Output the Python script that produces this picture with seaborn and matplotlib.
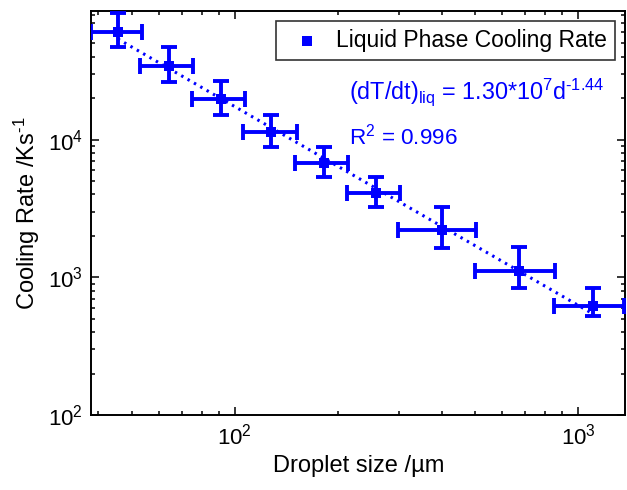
import numpy as np
import matplotlib
matplotlib.use("Agg")
import matplotlib.pyplot as plt
import seaborn as sns
import pandas as pd

# ---- data ----
droplet_size = [45.6, 64.3, 91.0, 127.5, 182.3, 257.0, 400.6, 674.5, 1104.0]
cooling_rate = [60800, 34200, 19600, 11400, 6730, 4100, 2206, 1117, 619]
size_low = [38.1, 52.9, 74.9, 105.9, 149.8, 211.8, 299.5, 501.0, 851.0]
size_high = [53.5, 75.7, 107.1, 151.5, 214.2, 302.9, 503.0, 857.0, 1362.0]
rate_low = [47300, 26300, 15090, 8880, 5380, 3256, 1624, 832, 524]
rate_high = [83500, 47300, 26600, 15090, 8880, 5380, 3256, 1668, 840]

legend_label = "Liquid Phase Cooling Rate"
fit_text = r"(dT/dt)$_{\mathregular{liq}}$ = 1.30*10$^{\mathregular{7}}$d$^{\mathregular{\text{-}1.44}}$"
r2_text = r"R$^{\mathregular{2}}$ = 0.996"

sns.set_style("ticks")
plt.rcParams["font.family"] = ["Liberation Sans", "DejaVu Sans"]
plt.rcParams["mathtext.fontset"] = "custom"
plt.rcParams["mathtext.rm"] = "Liberation Sans"
plt.rcParams["mathtext.it"] = "Liberation Sans:italic"
plt.rcParams["mathtext.default"] = "regular"
plt.rcParams["text.color"] = "black"
plt.rcParams["axes.labelcolor"] = "black"

df = pd.DataFrame({"d": droplet_size, "r": cooling_rate})
x = np.array(droplet_size)
y = np.array(cooling_rate)
xerr = np.vstack([x - np.array(size_low), np.array(size_high) - x])
yerr = np.vstack([y - np.array(rate_low), np.array(rate_high) - y])

fig = plt.figure(figsize=(6.27, 4.90), dpi=100)
ax = fig.add_axes([0.1451, 0.1531, 0.9976 - 0.1451, 0.9776 - 0.1531])

blue = "#0000ff"

# fit line (power law in log space)
k, b = np.polyfit(np.log10(x), np.log10(y), 1)
xf = np.logspace(np.log10(x[0]), np.log10(x[-1]), 100)
fit_df = pd.DataFrame({"d": xf, "r": 10 ** (b + k * np.log10(xf))})
sns.lineplot(data=fit_df, x="d", y="r", ax=ax, color=blue, lw=2.2,
             linestyle=(0, (0.8, 1.6)), legend=False)

ax.errorbar(x, y, xerr=xerr, yerr=yerr, fmt="none", ecolor=blue,
            elinewidth=2.8, capsize=5.5, capthick=2.8, zorder=3)
sns.scatterplot(data=df, x="d", y="r", ax=ax, color=blue, marker="s",
                s=45, edgecolor=blue, linewidth=0, zorder=4, label=legend_label)

ax.set_xscale("log")
ax.set_yscale("log")
ax.set_xlim(38.1, 1374)
ax.set_ylim(100, 85900)

ax.set_xlabel("Droplet size /µm", fontsize=17, labelpad=4)
ax.set_ylabel(r"Cooling Rate /Ks$^{\mathregular{\text{-}1}}$", fontsize=17, labelpad=4)

ax.tick_params(which="both", direction="in", top=True, right=True,
               labelsize=16, colors="black", width=1.1)
ax.tick_params(which="major", length=6, pad=6)
ax.tick_params(which="minor", length=3)
for s in ax.spines.values():
    s.set_linewidth(1.4)
    s.set_color("black")

leg = ax.legend(loc="upper right", bbox_to_anchor=(0.981, 0.975), borderaxespad=0,
                fontsize=16.5, frameon=True, fancybox=False, edgecolor="black",
                handletextpad=0.3, borderpad=0.35, markerscale=1.0,
                handlelength=2.0)
leg.get_frame().set_linewidth(1.2)

ax.text(0.483, 0.80, fit_text, transform=ax.transAxes, color=blue,
        fontsize=16.8, va="center", ha="left")
ax.text(0.483, 0.69, r2_text, transform=ax.transAxes, color=blue,
        fontsize=16.2, va="center", ha="left")

fig.savefig("out.png", dpi=100)
